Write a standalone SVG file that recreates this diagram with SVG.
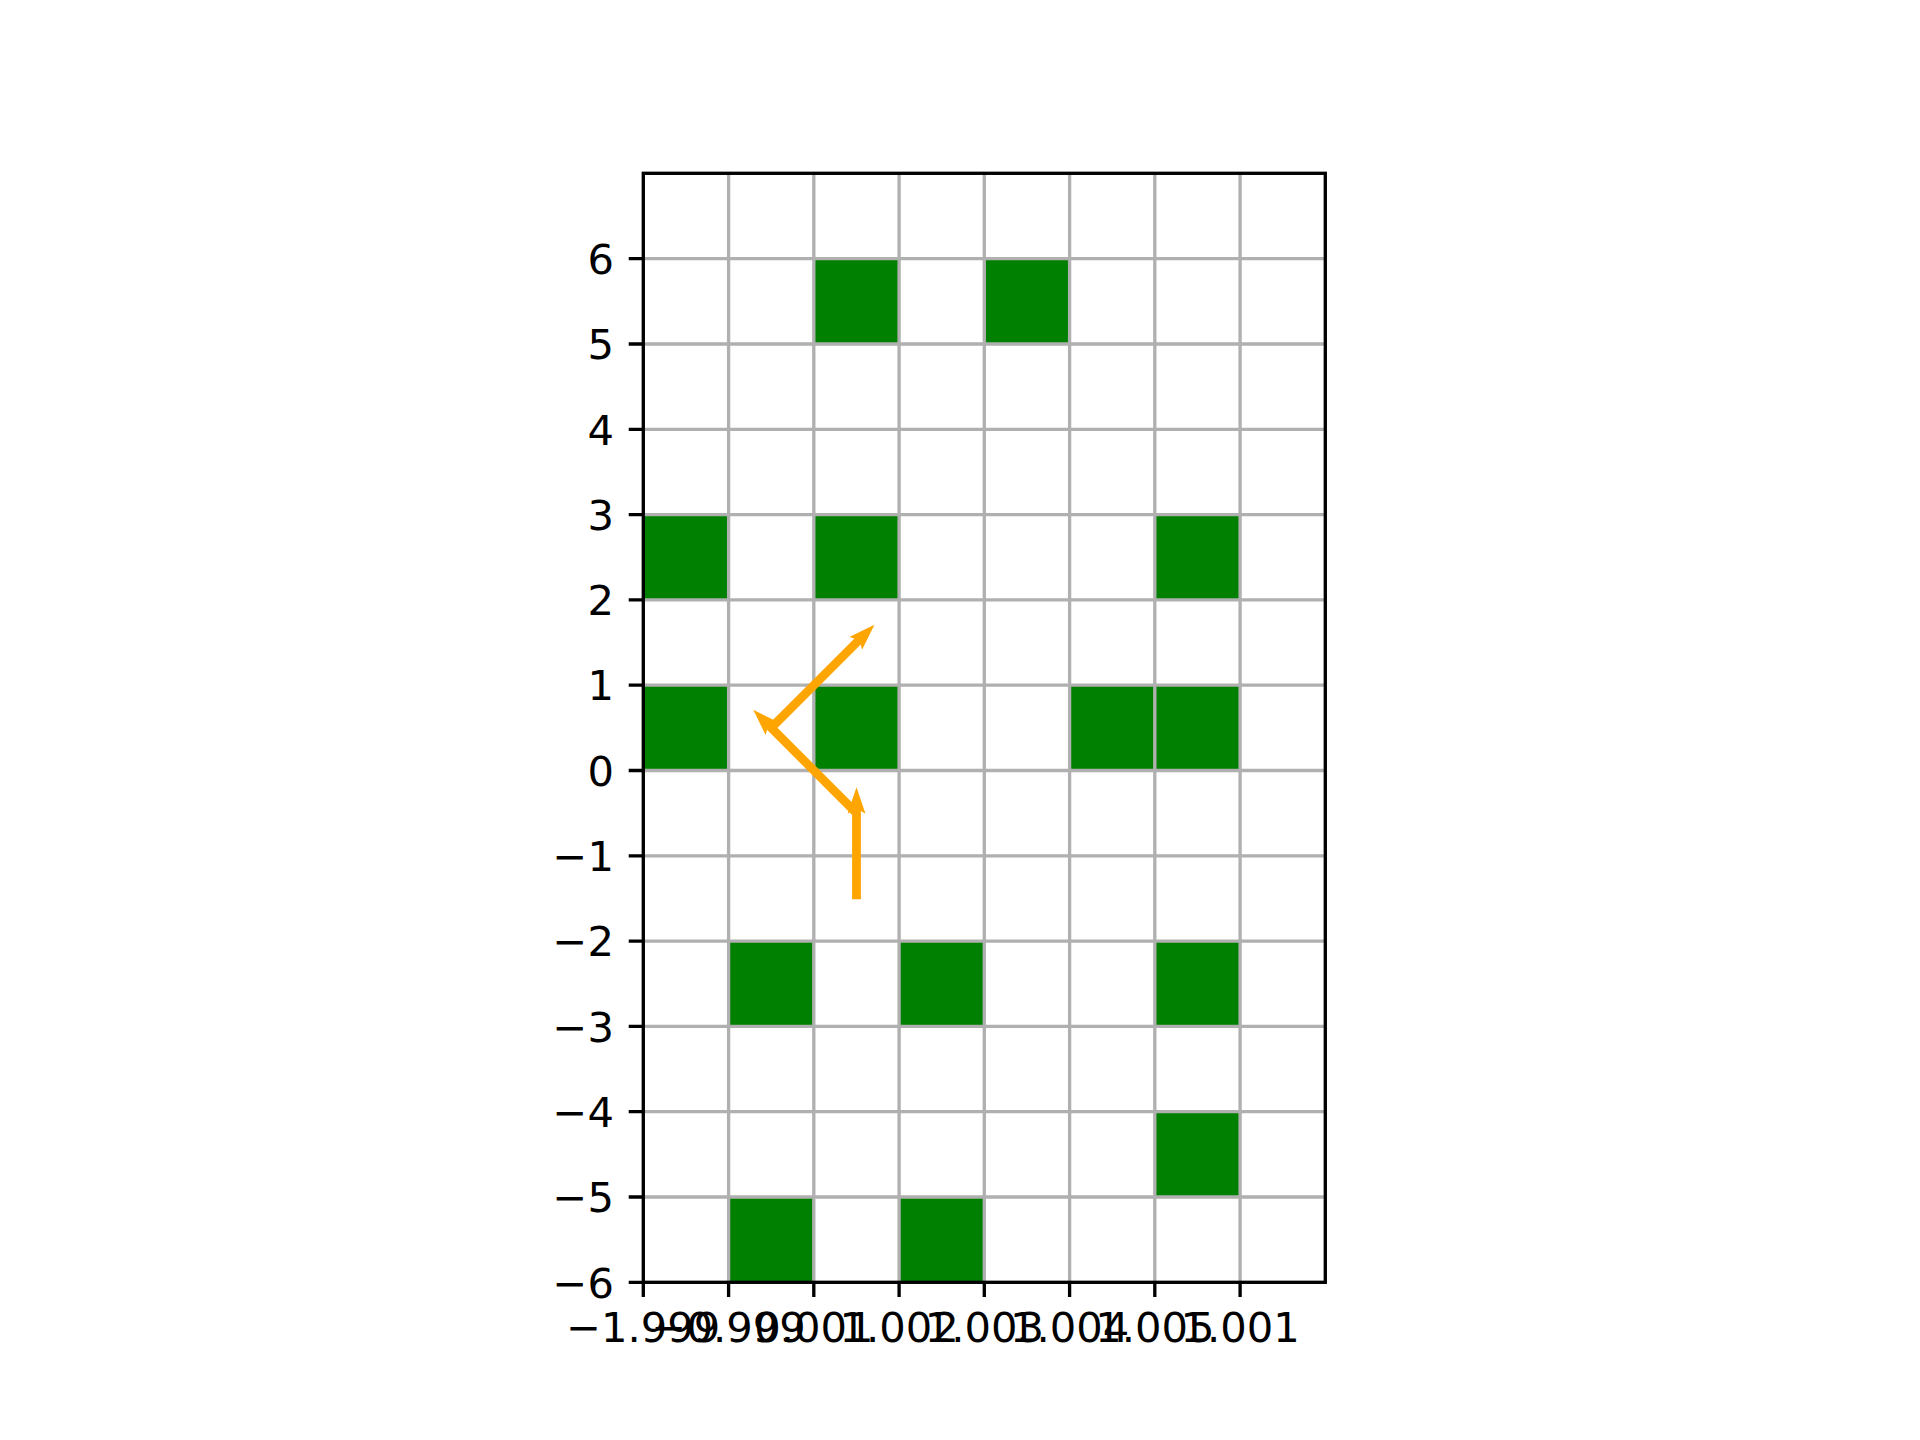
<svg xmlns="http://www.w3.org/2000/svg" width="1920" height="1440" viewBox="0 0 1920 1440">
<style>
.cell{fill:#008000;stroke:#008000;stroke-width:1.5}
.grid{stroke:#b0b0b0;stroke-width:3.33;fill:none}
.spine{stroke:#000;stroke-width:3.33;fill:none;stroke-linecap:square}
.tick{stroke:#000;stroke-width:3.33}
.lbl{font-family:"DejaVu Sans",sans-serif;font-size:41.67px;fill:#000}
.arr{fill:#ffa500}
</style>
<rect x="0" y="0" width="1920" height="1440" fill="#fff"/>
<g id="cells">
<rect class="cell" x="813.8" y="258.7" width="85.3" height="85.3"/>
<rect class="cell" x="984.3" y="258.7" width="85.3" height="85.3"/>
<rect class="cell" x="643.3" y="514.6" width="85.3" height="85.3"/>
<rect class="cell" x="813.8" y="514.6" width="85.3" height="85.3"/>
<rect class="cell" x="1154.8" y="514.6" width="85.3" height="85.3"/>
<rect class="cell" x="643.3" y="685.2" width="85.3" height="85.3"/>
<rect class="cell" x="813.8" y="685.2" width="85.3" height="85.3"/>
<rect class="cell" x="1069.6" y="685.2" width="85.3" height="85.3"/>
<rect class="cell" x="1154.8" y="685.2" width="85.3" height="85.3"/>
<rect class="cell" x="728.6" y="941.1" width="85.3" height="85.3"/>
<rect class="cell" x="899.1" y="941.1" width="85.3" height="85.3"/>
<rect class="cell" x="1154.8" y="941.1" width="85.3" height="85.3"/>
<rect class="cell" x="1154.8" y="1111.7" width="85.3" height="85.3"/>
<rect class="cell" x="728.6" y="1197.0" width="85.3" height="85.3"/>
<rect class="cell" x="899.1" y="1197.0" width="85.3" height="85.3"/>
</g>
<g id="grid" class="grid">
<path d="M728.6,173.3V1282.3M813.8,173.3V1282.3M899.1,173.3V1282.3M984.3,173.3V1282.3M1069.6,173.3V1282.3M1154.8,173.3V1282.3M1240.1,173.3V1282.3"/>
<path d="M643.3,258.7H1325.3M643.3,344.0H1325.3M643.3,429.3H1325.3M643.3,514.6H1325.3M643.3,599.9H1325.3M643.3,685.2H1325.3M643.3,770.5H1325.3M643.3,855.8H1325.3M643.3,941.1H1325.3M643.3,1026.4H1325.3M643.3,1111.7H1325.3M643.3,1197.0H1325.3"/>
</g>
<g id="connectors" class="arr">
<g transform="translate(856.5,899.3) rotate(-90)">
<path d="M0,-4.4 L88.2,-4.4 L85.5,-9 L112,0 L85.5,9 L88.2,4.4 L0,4.4 Z"/>
</g>
<g transform="translate(856.5,813.1) rotate(-135)">
<path d="M0,-4.4 L122.2,-4.4 L119.5,-9 L146,0 L119.5,9 L122.2,4.4 L0,4.4 Z"/>
</g>
<g transform="translate(771.2,727.9) rotate(-45)">
<path d="M0,-4.4 L122.2,-4.4 L119.5,-9 L146,0 L119.5,9 L122.2,4.4 L0,4.4 Z"/>
</g>
</g>
<g id="axes">
<rect class="spine" x="643.3" y="173.3" width="682" height="1109"/>
<path class="tick" d="M643.3,1282.3v14.6M728.6,1282.3v14.6M813.8,1282.3v14.6M899.1,1282.3v14.6M984.3,1282.3v14.6M1069.6,1282.3v14.6M1154.8,1282.3v14.6M1240.1,1282.3v14.6"/>
<path class="tick" d="M643.3,258.7h-14.6M643.3,344.0h-14.6M643.3,429.3h-14.6M643.3,514.6h-14.6M643.3,599.9h-14.6M643.3,685.2h-14.6M643.3,770.5h-14.6M643.3,855.8h-14.6M643.3,941.1h-14.6M643.3,1026.4h-14.6M643.3,1111.7h-14.6M643.3,1197.0h-14.6M643.3,1282.3h-14.6"/>
</g>
<g id="ylabels" class="lbl" text-anchor="end">
<text x="614" y="273.9">6</text>
<text x="614" y="359.2">5</text>
<text x="614" y="444.5">4</text>
<text x="614" y="529.8">3</text>
<text x="614" y="615.1">2</text>
<text x="614" y="700.4">1</text>
<text x="614" y="785.7">0</text>
<text x="614" y="871.0">−1</text>
<text x="614" y="956.3">−2</text>
<text x="614" y="1041.6">−3</text>
<text x="614" y="1126.9">−4</text>
<text x="614" y="1212.2">−5</text>
<text x="614" y="1297.5">−6</text>
</g>
<g id="xlabels" class="lbl" text-anchor="middle">
<text x="643.3" y="1341.5">−1.999</text>
<text x="728.6" y="1341.5">−0.999</text>
<text x="813.8" y="1341.5">0.001</text>
<text x="899.1" y="1341.5">1.002</text>
<text x="984.3" y="1341.5">1.003</text>
<text x="1069.6" y="1341.5">1.004</text>
<text x="1154.8" y="1341.5">1.005</text>
<text x="1240.1" y="1341.5">1.001</text>
</g>
</svg>
